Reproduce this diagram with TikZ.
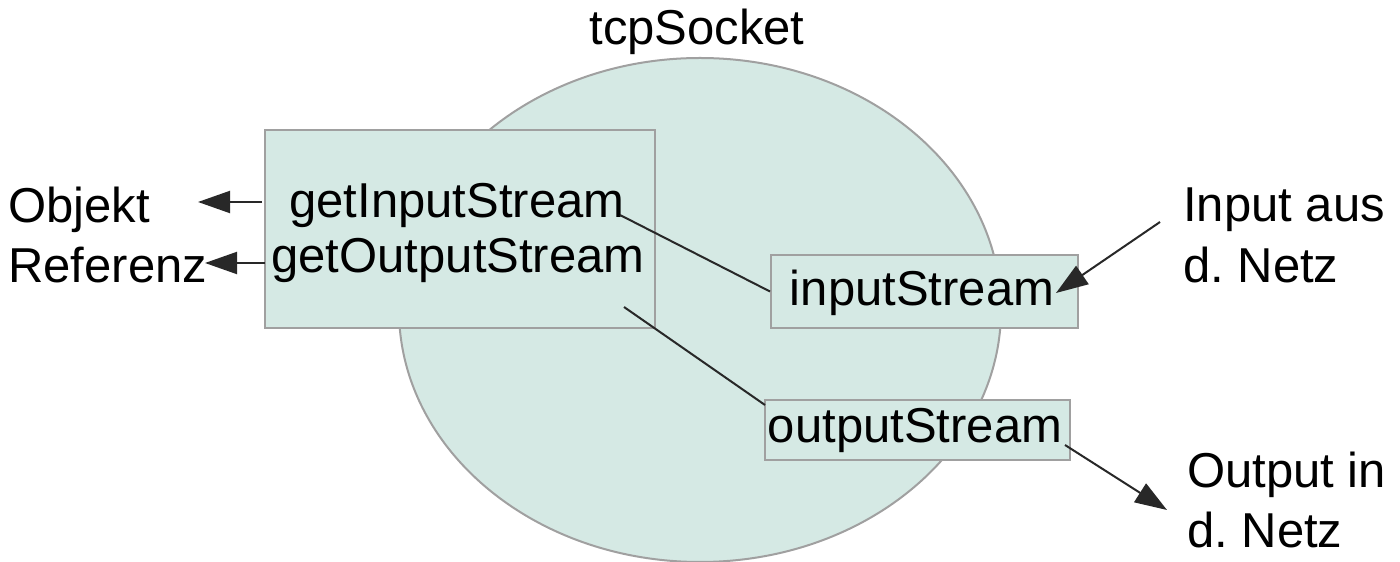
\documentclass[tikz,border=0pt]{standalone}
\usepackage{fontspec}
\setmainfont{Liberation Sans}
\usetikzlibrary{arrows.meta,shapes.geometric}
\definecolor{sockfill}{RGB}{213,233,228}
\definecolor{sockline}{RGB}{160,160,160}
\definecolor{conn}{RGB}{40,40,40}
\tikzset{
  big/.style={font=\fontsize{49}{56}\selectfont, inner sep=0pt},
  boxed/.style={draw=sockline, line width=2pt, fill=sockfill, inner sep=0pt},
  link/.style={draw=conn, line width=2pt},
  arr/.style={draw=conn, line width=2pt, -{Triangle[length=32pt,width=22pt]}},
}
\begin{document}
\begin{tikzpicture}[x=1pt,y=1pt]
\useasboundingbox (0,0) rectangle (1400,562);
\node[ellipse, boxed, minimum width=602, minimum height=504] (sock) at (700,252) {};
\node[big] (title) at (697,530) {tcpSocket};
\node[boxed, minimum width=390, minimum height=198] (meth) at (460,333) {};
\node[big] (gis) at (457,357) {getInputStream};
\node[big] (gos) at (458,302) {getOutputStream};
\node[boxed, minimum width=307, minimum height=73] (inB) at (924.5,270.5) {};
\node[big] (inT) at (922,269) {inputStream};
\node[boxed, minimum width=305, minimum height=60] (outB) at (917.5,132) {};
\node[big] (outT) at (915,132) {outputStream};
\node[big, anchor=west] (obj) at (8,352) {Objekt};
\node[big, anchor=west] (ref) at (8,297) {Referenz};
\node[big, anchor=west] (inp) at (1183,352) {Input aus};
\node[big, anchor=west] (inp2) at (1183,297) {d.\ Netz};
\node[big, anchor=west] (outp) at (1187,87) {Output in};
\node[big, anchor=west] (outp2) at (1187,32) {d.\ Netz};
\coordinate (gisEnd) at (620,347);
\coordinate (gosEnd) at (624,255);
\coordinate (outTop) at (765,157);
\coordinate (a1s) at (262,360);
\coordinate (a1e) at (198,360);
\coordinate (a2s) at (265,299);
\coordinate (a2e) at (205,299);
\coordinate (inS) at (1160,340);
\coordinate (inE) at (1056,269);
\coordinate (outS) at (1065,117);
\coordinate (outE) at (1167,52);
\draw[link] (gisEnd) -- (inB.west);
\draw[link] (gosEnd) -- (outTop);
\draw[arr] (a1s) -- (a1e);
\draw[arr] (a2s) -- (a2e);
\draw[arr] (inS) -- (inE);
\draw[arr] (outS) -- (outE);
\end{tikzpicture}
\end{document}
